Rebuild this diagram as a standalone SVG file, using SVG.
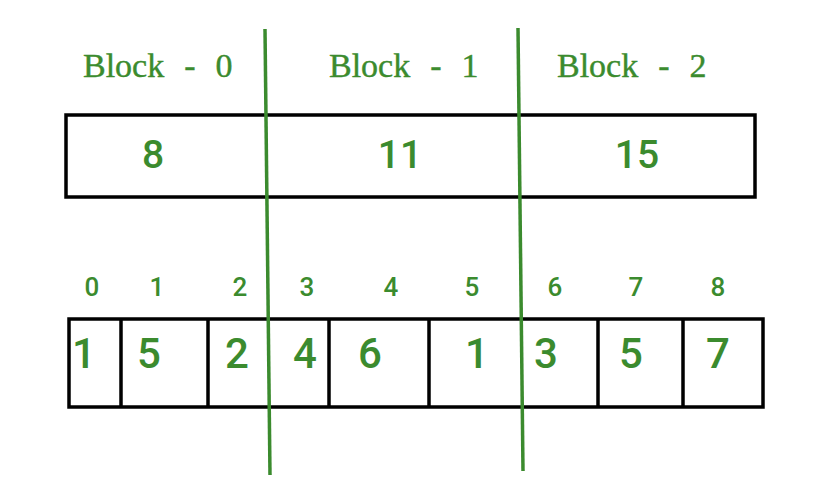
<svg xmlns="http://www.w3.org/2000/svg" width="816" height="490" viewBox="0 0 816 490">
<style>
.box{fill:none;stroke:#000;stroke-width:3.5}
.div{stroke:#3b8b2e;stroke-width:3.5;fill:none}
.blk{font-family:"Liberation Serif",serif;font-size:34px;fill:#3b8b2e;word-spacing:11.5px;stroke:#3b8b2e;stroke-width:0.4}
.val{font-family:Roboto,"Liberation Sans",sans-serif;font-weight:500;font-size:39px;fill:#3b8b2e;text-anchor:middle}
.arr{font-family:Roboto,"Liberation Sans",sans-serif;font-weight:500;font-size:42px;fill:#3b8b2e;text-anchor:middle}
.idx{font-family:Roboto,"Liberation Sans",sans-serif;font-weight:500;font-size:26px;fill:#3b8b2e;text-anchor:middle}
</style>
<rect width="816" height="490" fill="#fff"/>
<g id="block-labels">
<text class="blk" x="83" y="77">Block - 0</text>
<text class="blk" x="329" y="77">Block - 1</text>
<text class="blk" x="557" y="77">Block - 2</text>
</g>
<g id="block-sums">
<rect class="box" x="66" y="115" width="689" height="82"/>
<text class="val" x="153" y="168">8</text>
<text class="val" x="400" y="168">11</text>
<text class="val" x="637" y="168">15</text>
</g>
<g id="indices">
<text class="idx" x="92" y="296">0</text>
<text class="idx" x="157" y="296">1</text>
<text class="idx" x="240" y="296">2</text>
<text class="idx" x="307" y="296">3</text>
<text class="idx" x="391" y="296">4</text>
<text class="idx" x="472" y="296">5</text>
<text class="idx" x="555" y="296">6</text>
<text class="idx" x="636" y="296">7</text>
<text class="idx" x="718" y="296">8</text>
</g>
<g id="array">
<rect class="box" x="69" y="319" width="694" height="88"/>
<path class="box" d="M121 319V407M208 319V407M329 319V407M429 319V407M598 319V407M683 319V407"/>
<text class="arr" x="84" y="368">1</text>
<text class="arr" x="149" y="368">5</text>
<text class="arr" x="237" y="368">2</text>
<text class="arr" x="305" y="368">4</text>
<text class="arr" x="370" y="368">6</text>
<text class="arr" x="477" y="368">1</text>
<text class="arr" x="546" y="368">3</text>
<text class="arr" x="631" y="368">5</text>
<text class="arr" x="718" y="368">7</text>
</g>
<g id="connectors">
<line class="div" x1="265" y1="29" x2="270" y2="475"/>
<line class="div" x1="518" y1="28" x2="523" y2="471"/>
</g>
</svg>
